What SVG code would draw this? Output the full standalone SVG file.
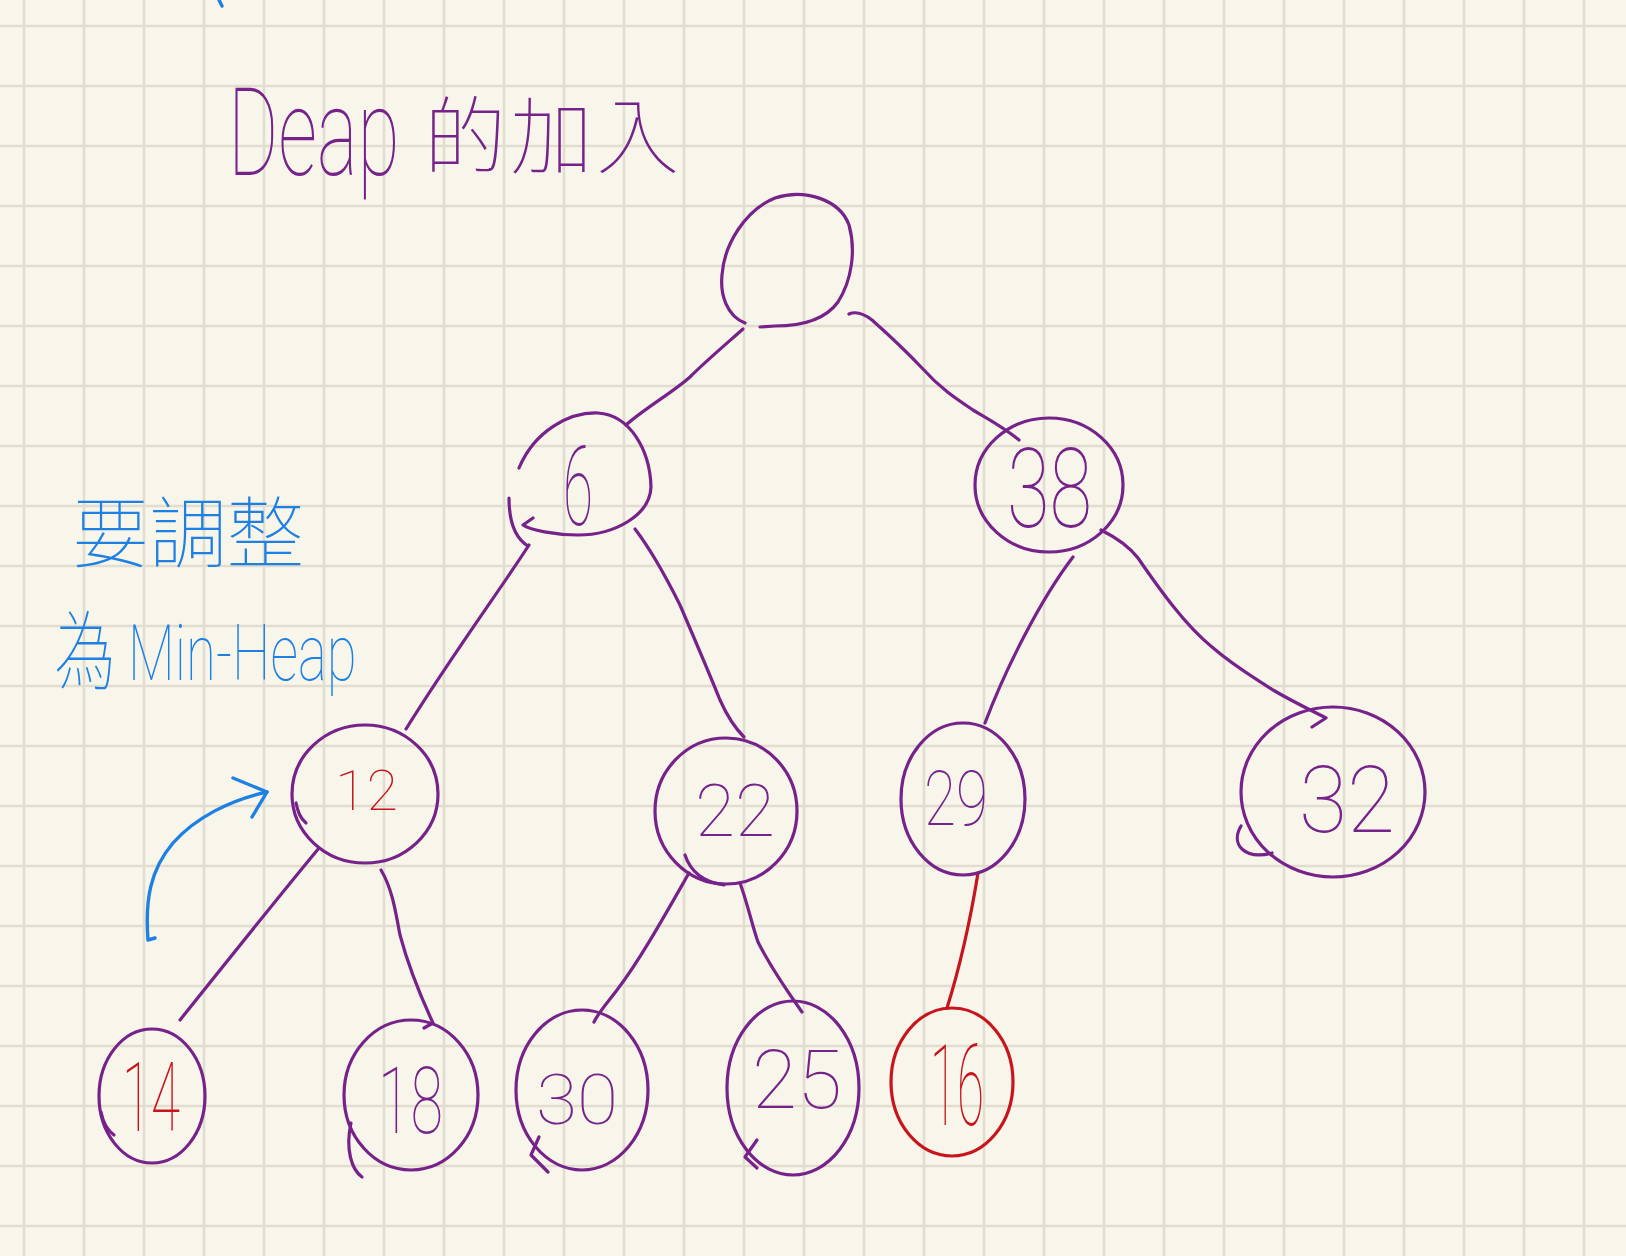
<svg xmlns="http://www.w3.org/2000/svg" width="1626" height="1256" viewBox="0 0 1626 1256">
<defs>
<pattern id="grid" x="-6" y="-4" width="60" height="60" patternUnits="userSpaceOnUse">
<line x1="30" y1="0" x2="30" y2="60" stroke="#e1ddd0" stroke-width="2.6"/>
<line x1="0" y1="30" x2="60" y2="30" stroke="#e1ddd0" stroke-width="2.6"/>
</pattern>
<style>
.p{fill:none;stroke:#76228a;stroke-width:3.2;stroke-linecap:round;stroke-linejoin:round}
.r{fill:none;stroke:#c8141c;stroke-width:3.2;stroke-linecap:round;stroke-linejoin:round}
.b{fill:none;stroke:#1f80e4;stroke-width:3.4;stroke-linecap:round;stroke-linejoin:round}
.t{font-family:Roboto,"Liberation Sans","Noto Sans CJK TC",sans-serif;font-weight:100}
.cjk{font-family:"Noto Sans CJK TC","Noto Sans CJK SC",sans-serif;font-weight:100}
.tp{fill:#76228a}
.tr{fill:#c8141c}
.tb{fill:#1f80e4}
</style>
</defs>
<rect width="1626" height="1256" fill="#f8f5ea"/>
<rect width="1626" height="1256" fill="url(#grid)"/>

<g id="title">
<text class="t tp" transform="translate(228 175) scale(0.63 1)" x="0" y="0" font-size="122">Deap</text>
<text class="cjk tp" transform="translate(424 167) scale(0.98 1)" x="0" y="0" font-size="84" letter-spacing="4">的加入</text>
</g>

<g id="note">
<path class="b" d="M219 0 L222 6"/>
<text class="cjk tb" x="72" y="562" font-size="78" textLength="232" lengthAdjust="spacingAndGlyphs">要調整</text>
<text class="cjk tb" transform="translate(54 683) scale(0.72 1)" x="0" y="0" font-size="86">為</text>
<text class="t tb" transform="translate(128 680) scale(0.7 1)" x="0" y="0" font-size="78">Min-Heap</text>
<path class="b" d="M155 938 L148 940 C145 900 150 870 173 843 C195 818 230 800 267 792"/>
<path class="b" d="M233 778 L267 792 L252 817"/>
</g>

<g id="connectors">
<path class="p" d="M743 329 C725 345 705 362 690 377 C672 393 645 408 626 425"/>
<path class="p" d="M849 314 C856 311 863 313 872 320 C890 336 905 350 922 368 C940 388 955 398 973 410 C990 420 1005 428 1019 440"/>
<path class="p" d="M529 545 C500 590 452 655 406 729"/>
<path class="p" d="M635 529 C655 555 670 585 680 605 C695 640 710 675 720 700 C728 718 735 728 744 737"/>
<path class="p" d="M985 723 C1005 670 1040 600 1073 557"/>
<path class="p" d="M1101 530 C1115 537 1128 545 1138 558 C1160 590 1185 625 1212 647 C1235 667 1255 678 1273 690 C1295 703 1315 712 1326 718 L1312 727"/>
<path class="p" d="M319 848 C280 895 240 945 180 1020"/>
<path class="p" d="M381 870 C393 890 396 915 400 935 C408 965 420 995 433 1023 L424 1028"/>
<path class="p" d="M689 873 C665 915 640 960 617 990 C608 1002 600 1010 594 1022"/>
<path class="p" d="M740 883 C748 905 752 925 758 942 C772 970 790 995 802 1012"/>
<path class="r" d="M978 873 C972 910 962 960 947 1008"/>
</g>

<g id="node-root">
<path class="p" d="M745 323 C727 316 720 295 722 275 C724 245 745 210 775 198 C805 188 840 200 849 225 C856 250 852 280 838 302 C825 320 800 326 775 326 L760 327"/>
</g>

<g id="node-6">
<path class="p" d="M519 468 C535 430 570 412 598 413 C630 415 650 450 651 487 C650 515 615 535 578 535 C555 535 530 530 523 525 L533 518"/>
<path class="p" d="M509 498 C509 520 515 538 528 546"/>
<text class="t tp" x="563" y="525" font-size="112" textLength="30" lengthAdjust="spacingAndGlyphs">6</text>
</g>

<g id="node-38">
<ellipse class="p" cx="1049" cy="485" rx="74" ry="67"/>
<text class="t tp" x="1007" y="527" font-size="112" textLength="85" lengthAdjust="spacingAndGlyphs">38</text>
</g>

<g id="node-12">
<ellipse class="p" cx="365" cy="794" rx="73" ry="69"/>
<path class="p" d="M296 803 C298 812 300 818 306 823"/>
<text class="t tr" x="335" y="810" font-size="56" textLength="63" lengthAdjust="spacingAndGlyphs">12</text>
</g>

<g id="node-22">
<ellipse class="p" cx="726" cy="811" rx="71" ry="73"/>
<path class="p" d="M685 855 C690 870 702 882 724 885"/>
<text class="t tp" x="695" y="836" font-size="72" textLength="80" lengthAdjust="spacingAndGlyphs">22</text>
</g>

<g id="node-29">
<ellipse class="p" cx="963" cy="799" rx="62" ry="76"/>
<text class="t tp" x="924" y="825" font-size="76" textLength="64" lengthAdjust="spacingAndGlyphs">29</text>
</g>

<g id="node-32">
<ellipse class="p" cx="1333" cy="792" rx="92" ry="85"/>
<path class="p" d="M1241 826 C1230 845 1245 860 1272 853"/>
<text class="t tp" x="1299" y="832" font-size="92" textLength="96" lengthAdjust="spacingAndGlyphs">32</text>
</g>

<g id="node-14">
<ellipse class="p" cx="152" cy="1096" rx="53" ry="67"/>
<path class="p" d="M101 1112 C103 1122 107 1130 114 1135"/>
<text class="t tr" x="122" y="1131" font-size="96" textLength="58" lengthAdjust="spacingAndGlyphs">14</text>
</g>

<g id="node-18">
<ellipse class="p" cx="411" cy="1095" rx="67" ry="75"/>
<path class="p" d="M351 1123 C345 1150 352 1170 362 1177"/>
<text class="t tp" x="378" y="1133" font-size="92" textLength="65" lengthAdjust="spacingAndGlyphs">18</text>
</g>

<g id="node-30">
<ellipse class="p" cx="582" cy="1090" rx="66" ry="80"/>
<path class="p" d="M539 1137 L531 1155 L548 1172"/>
<text class="t tp" x="536" y="1124" font-size="70" textLength="82" lengthAdjust="spacingAndGlyphs">30</text>
</g>

<g id="node-25">
<ellipse class="p" cx="793" cy="1088" rx="66" ry="87"/>
<path class="p" d="M757 1140 L745 1157 L757 1168"/>
<text class="t tp" x="752" y="1108" font-size="82" textLength="90" lengthAdjust="spacingAndGlyphs">25</text>
</g>

<g id="node-16">
<ellipse class="r" cx="952" cy="1082" rx="61" ry="74"/>
<text class="t tr" x="930" y="1125" font-size="114" textLength="54" lengthAdjust="spacingAndGlyphs">16</text>
</g>
</svg>
